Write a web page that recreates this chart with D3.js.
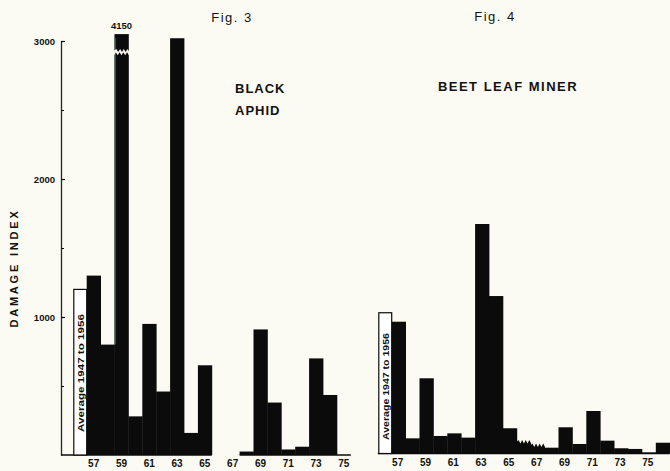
<!DOCTYPE html>
<html>
<head>
<meta charset="utf-8">
<script src="https://cdn.jsdelivr.net/npm/d3@7/dist/d3.min.js"></script>
<style>
  html, body { margin: 0; padding: 0; background: #fbfbf3; }
  svg { display: block; }
  text { font-family: "Liberation Sans", Arial, Helvetica, sans-serif; fill: #111; }
</style>
</head>
<body>
<svg id="chart" width="670" height="471"></svg>
<script>
// Fig. 3 — black aphid damage index by year (null = no record)
const aphidYears  = [57, 58, 59, 60, 61, 62, 63, 64, 65, 66, 67, 68, 69, 70, 71, 72, 73, 74, 75];
const aphidDamage = [1300, 800, 4150, 280, 950, 460, 3020, 160, 650, null, null, 25, 910, 380, 40, 60, 700, 435, 0];
const aphidAverage = 1200;

// Fig. 4 — beet leaf miner damage index by year
const minerYears  = [57, 58, 59, 60, 61, 62, 63, 64, 65, 66, 67, 68, 69, 70, 71, 72, 73, 74, 75, 76];
const minerDamage = [955, 110, 545, 127, 146, 115, 1663, 1141, 183, 85, 60, 42, 190, 69, 308, 93, 38, 33, 8, 78];
const minerAverage = 1020;
const minerRoughYears = [66, 67];   // years shown with a ragged (estimated) top

const xTickLabels = [57, 59, 61, 63, 65, 67, 69, 71, 73, 75];
const yMajorTicks = [1000, 2000, 3000];
const yMinorTicks = [500, 1500, 2500];
const averageLabel = "Average 1947 to 1956";

const svg = d3.select("#chart");
svg.append("rect").attr("width", 670).attr("height", 471).attr("fill", "#fbfbf3");

const INK = "#0b0b0b";
const AXIS_TOP = 3000;      // highest value shown on the axis
const BAR_CAP = 3050;       // taller bars are broken at this height

// ---------- shared vertical scales ----------
const yL = d3.scaleLinear().domain([0, AXIS_TOP]).range([455, 41]);
const yR = d3.scaleLinear().domain([0, AXIS_TOP]).range([453.5, 39.5]);

// ---------- horizontal scales ----------
const xL = d3.scaleBand().domain(["avg", ...aphidYears]).range([72.8, 350.8]).padding(0);
const xR = d3.scaleBand().domain(["avg", ...minerYears]).range([377.8, 669.7]).padding(0);

// ---------- left axis ----------
const gAxis = svg.append("g").attr("transform", `translate(61,0)`);
gAxis.call(d3.axisLeft(yL).tickValues(yMajorTicks).tickFormat(d3.format("d"))
  .tickSizeInner(-4).tickSizeOuter(0).tickPadding(6));
gAxis.select(".domain").attr("stroke", "#1d2a20").attr("stroke-width", 1.3);
gAxis.selectAll(".tick line").attr("stroke", INK).attr("stroke-width", 1.2);
gAxis.selectAll(".tick text")
  .attr("font-family", "'Liberation Sans', Arial, sans-serif")
  .attr("font-size", 9.5).attr("font-weight", "bold").attr("fill", "#111");

const gMinor = svg.append("g").attr("transform", `translate(61,0)`);
gMinor.call(d3.axisLeft(yL).tickValues(yMinorTicks).tickSizeInner(-3).tickSizeOuter(0).tickFormat(""));
gMinor.select(".domain").remove();
gMinor.selectAll(".tick line").attr("stroke", INK).attr("stroke-width", 1);

// axis title
svg.append("text")
  .attr("transform", "translate(18,268) rotate(-90)")
  .attr("text-anchor", "middle")
  .attr("font-size", 11).attr("font-weight", "bold")
  .attr("letter-spacing", 2.8)
  .text("DAMAGE INDEX");

// ---------- helpers ----------
function baselineRuns(years, values) {
  const runs = [];
  let cur = null;
  years.forEach((yr, i) => {
    if (values[i] == null) { cur = null; return; }
    if (!cur) { cur = [yr, yr]; runs.push(cur); } else cur[1] = yr;
  });
  return runs;
}

function drawPanel(opts) {
  const { x, y, years, values, average, baseStart, rough = [] } = opts;
  const g = svg.append("g");
  const items = years.map((yr, i) => ({ yr, v: values[i] })).filter(d => d.v != null);

  // baseline segments
  baselineRuns(years, values).forEach(([a, b], k) => {
    const x0 = (k === 0) ? baseStart : x(a);
    const x1 = x(b) + x.bandwidth();
    g.append("line")
      .attr("x1", x0).attr("x2", x1)
      .attr("y1", y(0)).attr("y2", y(0))
      .attr("stroke", INK).attr("stroke-width", 1.6);
  });

  // yearly bars (regular tops)
  g.selectAll("rect.bar")
    .data(items.filter(d => !rough.includes(d.yr)))
    .join("rect")
    .attr("class", "bar")
    .attr("x", d => x(d.yr))
    .attr("width", x.bandwidth() + 0.4)
    .attr("y", d => y(Math.min(d.v, BAR_CAP)))
    .attr("height", d => y(0) - y(Math.min(d.v, BAR_CAP)))
    .attr("fill", INK);

  // yearly bars with ragged tops
  g.selectAll("path.rough")
    .data(items.filter(d => rough.includes(d.yr)))
    .join("path")
    .attr("class", "rough")
    .attr("fill", INK)
    .attr("d", d => {
      const x0 = x(d.yr), w = x.bandwidth() + 0.4, top = y(d.v), base = y(0);
      const p = d3.path();
      p.moveTo(x0, base);
      p.lineTo(x0, top);
      const teeth = 4;
      for (let t = 1; t <= teeth * 2; t++) {
        const xx = x0 + (w * t) / (teeth * 2);
        p.lineTo(xx, top + (t % 2 ? -1.8 : 1.8));
      }
      p.lineTo(x0 + w, base);
      p.closePath();
      return p.toString();
    });

  // long-term average: open bar
  const ax = x("avg");
  g.append("rect")
    .attr("x", ax + 1).attr("y", y(average))
    .attr("width", x.bandwidth() - 1).attr("height", y(0) - y(average))
    .attr("fill", "#ffffff").attr("stroke", INK).attr("stroke-width", 1.2);
  return g;
}

// ---------- Fig. 3 ----------
drawPanel({ x: xL, y: yL, years: aphidYears, values: aphidDamage, average: aphidAverage, baseStart: 61 });

svg.append("text")
  .attr("transform", `translate(${xL("avg") + xL.bandwidth() / 2 + 1.5},432) rotate(-90)`)
  .attr("dominant-baseline", "central")
  .attr("font-size", 8.5).attr("font-weight", "bold")
  .attr("textLength", 118).attr("lengthAdjust", "spacingAndGlyphs")
  .text(averageLabel);

// broken bar: scan-coloured edge, white break and true value
aphidYears.forEach((yr, i) => {
  const v = aphidDamage[i];
  if (v == null || v <= BAR_CAP) return;
  const x0 = xL(yr), w = xL.bandwidth();
  const prev = aphidDamage[i - 1];
  svg.append("line")
    .attr("x1", x0 + 0.8).attr("x2", x0 + 0.8)
    .attr("y1", yL(BAR_CAP) + 4).attr("y2", yL(prev))
    .attr("stroke", "#2d6a3a").attr("stroke-width", 1.6).attr("opacity", 0.85);
  const yb = yL(AXIS_TOP) + 11;
  const brk = d3.path();
  const n = 4;
  brk.moveTo(x0 - 0.5, yb - 1.5);
  for (let t = 1; t <= n * 2; t++) brk.lineTo(x0 + (w + 1) * t / (n * 2), yb - 1.5 + (t % 2 ? -1.5 : 1.5));
  for (let t = n * 2; t >= 0; t--) brk.lineTo(x0 - 0.5 + (w + 1) * t / (n * 2), yb + 1.8 + (t % 2 ? -1.5 : 1.5));
  brk.closePath();
  svg.append("path").attr("d", brk.toString()).attr("fill", "#fbfbf3");
  svg.append("text")
    .attr("x", x0 + w / 2).attr("y", yL(BAR_CAP) - 5)
    .attr("text-anchor", "middle")
    .attr("font-size", 9.5).attr("font-weight", "bold")
    .text(v);
});

// x tick labels
svg.append("g").selectAll("text")
  .data(xTickLabels)
  .join("text")
  .attr("x", d => xL(d) + xL.bandwidth() / 2)
  .attr("y", 467)
  .attr("text-anchor", "middle")
  .attr("font-size", 10).attr("font-weight", "bold")
  .text(d => d);

// ---------- Fig. 4 ----------
drawPanel({ x: xR, y: yR, years: minerYears, values: minerDamage, average: minerAverage,
            baseStart: xR("avg"), rough: minerRoughYears });

svg.append("text")
  .attr("transform", `translate(${xR("avg") + xR.bandwidth() / 2 + 1.5},440) rotate(-90)`)
  .attr("dominant-baseline", "central")
  .attr("font-size", 8.5).attr("font-weight", "bold")
  .attr("textLength", 107).attr("lengthAdjust", "spacingAndGlyphs")
  .text(averageLabel);

svg.append("g").selectAll("text")
  .data(xTickLabels)
  .join("text")
  .attr("x", d => xR(d) + xR.bandwidth() / 2 - 1)
  .attr("y", 466)
  .attr("text-anchor", "middle")
  .attr("font-size", 10).attr("font-weight", "bold")
  .text(d => d);

// ---------- titles ----------
svg.append("text").attr("x", 232).attr("y", 22).attr("text-anchor", "middle")
  .attr("font-size", 13).attr("letter-spacing", 1.5).attr("fill", "#444").text("Fig. 3");
svg.append("text").attr("x", 495).attr("y", 21).attr("text-anchor", "middle")
  .attr("font-size", 13).attr("letter-spacing", 1.5).attr("fill", "#444").text("Fig. 4");

svg.append("text").attr("x", 235).attr("y", 93)
  .attr("font-size", 13).attr("font-weight", "bold").attr("letter-spacing", 1).text("BLACK");
svg.append("text").attr("x", 235).attr("y", 115)
  .attr("font-size", 13).attr("font-weight", "bold").attr("letter-spacing", 1).text("APHID");
svg.append("text").attr("x", 508).attr("y", 91).attr("text-anchor", "middle")
  .attr("font-size", 13).attr("font-weight", "bold").attr("letter-spacing", 1.5).text("BEET LEAF MINER");
</script>
</body>
</html>
